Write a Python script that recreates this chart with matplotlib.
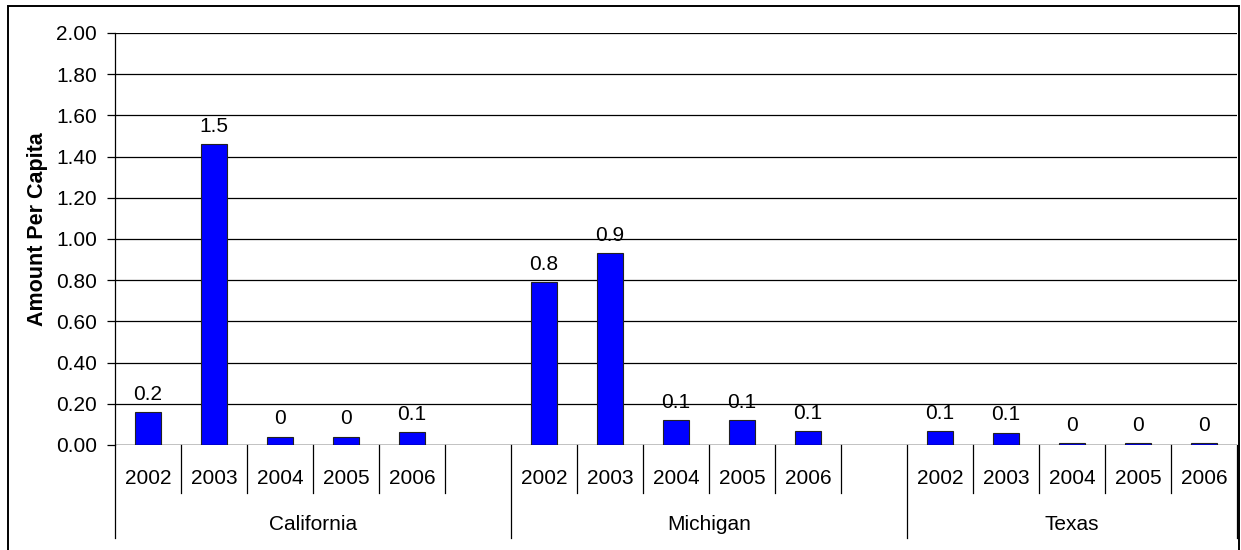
import matplotlib.pyplot as plt
from matplotlib.patches import Rectangle

# amount per capita by state and year
states = ["California", "Michigan", "Texas"]
years = ["2002", "2003", "2004", "2005", "2006"]
california = [0.16, 1.46, 0.04, 0.04, 0.063]
michigan = [0.79, 0.93, 0.12, 0.12, 0.068]
texas = [0.068, 0.06, 0.01, 0.01, 0.01]
series = [california, michigan, texas]

plt.rcParams["font.family"] = ["Liberation Sans", "DejaVu Sans"]
FS = 15

W, H = 1241, 550
fig = plt.figure(figsize=(W / 100, H / 100), dpi=100)
ax = fig.add_axes([115 / W, (H - 445) / H, (1237 - 115) / W, (445 - 33) / H])

# each state gets 5 year slots plus one empty slot as a gap
n_slots = len(states) * (len(years) + 1) - 1
slot_x = []
slot_v = []
for g, vals in enumerate(series):
    for i, v in enumerate(vals):
        slot_x.append(g * (len(years) + 1) + i + 0.5)
        slot_v.append(v)

ax.bar(slot_x, slot_v, width=0.38, color="#0000FF", edgecolor="#222222",
       linewidth=0.8, zorder=3)

for x, v in zip(slot_x, slot_v):
    ax.annotate(f"{round(v, 1):g}", (x, v), xytext=(0, 6),
                textcoords="offset points", ha="center", va="bottom",
                fontsize=FS, zorder=4)

ax.set_xlim(0, n_slots)
ax.set_ylim(0, 2.0)
ax.set_yticks([i * 0.2 for i in range(11)])
ax.set_yticklabels([f"{i * 0.2:.2f}" for i in range(11)])
ax.tick_params(axis="y", length=6, width=0.9, pad=7, labelsize=FS)
ax.set_xticks([])
ax.grid(axis="y", color="black", linewidth=0.9, zorder=0)

for s in ["top", "right", "bottom"]:
    ax.spines[s].set_visible(False)
ax.spines["left"].set_linewidth(0.9)
ax.axhline(0, color="black", linewidth=0.9, zorder=5)

# two-level category axis drawn under the plot
tr = ax.get_xaxis_transform()
ax_h = 445 - 33
short = -48 / ax_h
long = -93 / ax_h
for k in range(n_slots + 1):
    if k % (len(years) + 1) == 0 or k == n_slots:
        y_end = long
    else:
        y_end = short
    ax.plot([k, k], [0, y_end], transform=tr, color="black", linewidth=0.9,
            clip_on=False)

for x, g in zip(slot_x, range(len(slot_x))):
    ax.text(x, -33 / ax_h, years[g % len(years)], transform=tr,
            ha="center", va="center", fontsize=FS)

for g, name in enumerate(states):
    start = g * (len(years) + 1)
    end = min(start + len(years) + 1, n_slots)
    ax.text((start + end) / 2, -79 / ax_h, name, transform=tr,
            ha="center", va="center", fontsize=FS)

fig.text(38 / W, 1 - 229 / H, "Amount Per Capita", rotation=90,
         ha="center", va="center", fontsize=15.5, fontweight="bold")

# outer chart border
fig.patches.append(Rectangle((8 / W, -0.1), (1239 - 8) / W, 1.1 - 6 / H,
                             transform=fig.transFigure, fill=False,
                             edgecolor="black", linewidth=1.4))

fig.savefig("out.png", dpi=100)
